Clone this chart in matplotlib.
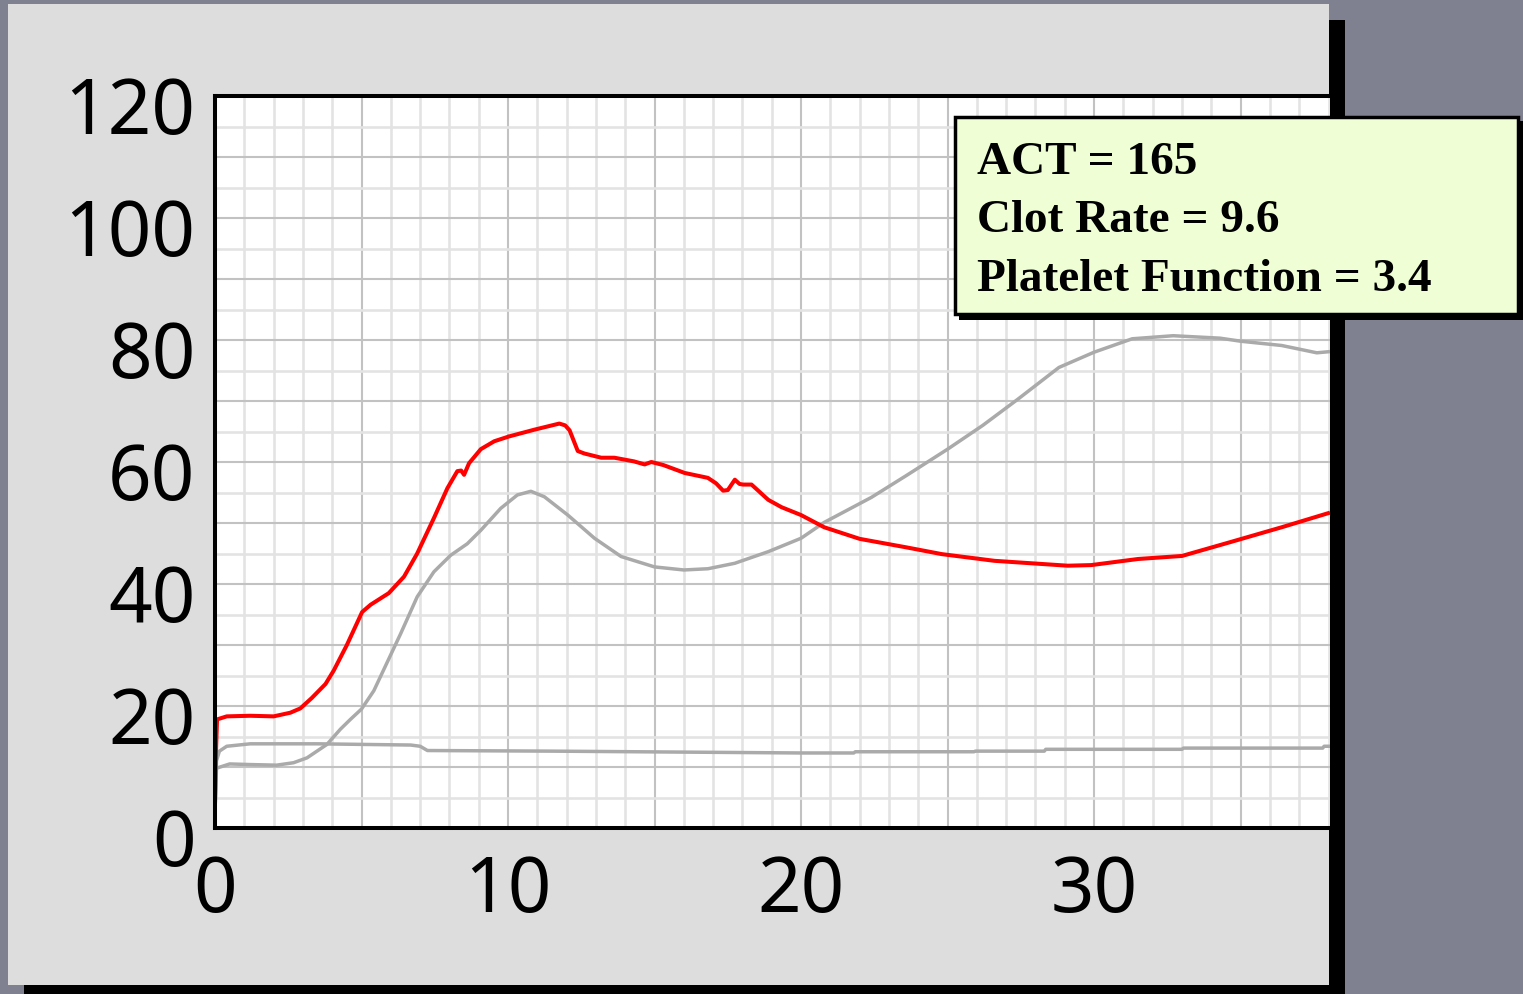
import matplotlib
matplotlib.use("Agg")
import matplotlib.pyplot as plt
from matplotlib.patches import Rectangle
from matplotlib.transforms import ScaledTranslation

# data (time in minutes, signal units)
red_x = [0, 0.03, 0.07, 0.4, 1.2, 2.0, 2.57, 2.91, 3.3, 3.77, 4.05, 4.5, 5.02, 5.31,
         5.93, 6.45, 6.9, 7.47, 7.93, 8.27, 8.4, 8.5, 8.67, 9.07, 9.53, 10.04, 10.9,
         11.75, 11.95, 12.1, 12.38, 12.6, 13.18, 13.63, 14.3, 14.66, 14.89, 15.3,
         16.03, 16.82, 17.1, 17.34, 17.5, 17.74, 17.9, 18.02, 18.31, 18.88, 19.33,
         20.0, 20.79, 22.0, 23.6, 24.8, 26.6, 29.1, 29.9, 31.5, 33.0, 34.6, 36.4, 38.05]
red_y = [4.3, 12, 17.8, 18.3, 18.4, 18.3, 18.9, 19.6, 21.3, 23.6, 25.8, 30.0, 35.4, 36.6,
         38.5, 41.2, 45.0, 50.8, 55.7, 58.5, 58.6, 57.9, 59.8, 62.1, 63.4, 64.2, 65.3,
         66.3, 66.0, 65.2, 61.8, 61.4, 60.7, 60.7, 60.1, 59.6, 60.0, 59.5,
         58.2, 57.4, 56.5, 55.3, 55.4, 57.1, 56.4, 56.3, 56.3, 53.8, 52.6,
         51.3, 49.3, 47.4, 46.0, 44.9, 43.8, 43.0, 43.1, 44.1, 44.6, 46.8, 49.3, 51.7]

curve_x = [0, 0.05, 0.5, 1.2, 2.1, 2.68, 3.14, 3.82, 4.28, 4.62, 5.0, 5.42, 6.33, 6.9,
           7.47, 8.04, 8.61, 9.07, 9.75, 10.32, 10.78, 11.24, 12.04, 12.95, 13.86, 15.0,
           16.0, 16.82, 17.74, 18.88, 20.0, 20.79, 22.4, 23.6, 25.0, 26.2, 27.4, 28.8,
           30.0, 31.3, 32.7, 34.3, 35.0, 36.4, 37.6, 38.05]
curve_y = [2.5, 9.8, 10.5, 10.4, 10.3, 10.7, 11.5, 13.7, 16.2, 17.8, 19.5, 22.5, 31.8, 37.9,
           42.0, 44.7, 46.6, 48.8, 52.4, 54.6, 55.2, 54.3, 51.3, 47.5, 44.5, 42.8,
           42.3, 42.5, 43.4, 45.3, 47.5, 50.1, 54.2, 57.8, 62.1, 66.0, 70.3, 75.5,
           78.0, 80.2, 80.7, 80.3, 79.8, 79.1, 77.9, 78.1]

flat_x = [0, 0.05, 0.15, 0.4, 1.2, 3.5, 6.68, 7.0, 7.25, 11.5, 20.0, 21.8, 21.85, 25.9,
          25.95, 28.3, 28.35, 33.0, 33.05, 37.8, 37.85, 38.05]
flat_y = [2.5, 11.0, 12.6, 13.4, 13.8, 13.8, 13.6, 13.4, 12.7, 12.6, 12.3, 12.3, 12.5, 12.5,
          12.6, 12.6, 12.9, 12.9, 13.1, 13.1, 13.4, 13.4]

x_ticks = [0, 10, 20, 30]
y_ticks = [0, 20, 40, 60, 80, 100, 120]
box_lines = ["ACT = 165", "Clot Rate = 9.6", "Platelet Function = 3.4"]

W, H = 1523, 995
bg = "#7f8190"
panel = "#dddddd"

fig = plt.figure(figsize=(W / 100, H / 100), dpi=100)
fig.patch.set_facecolor(bg)

def px_rect(x0, y0, x1, y1, **kw):
    # rectangle in pixel coords measured from top-left
    return Rectangle((x0 / W, 1 - y1 / H), (x1 - x0) / W, (y1 - y0) / H,
                     transform=fig.transFigure, figure=fig, **kw)

fig.patches.append(px_rect(24, 21, 1345, 1002, facecolor="black", edgecolor="none", zorder=-2))
fig.patches.append(px_rect(8, 5, 1329, 986, facecolor=panel, edgecolor="none", zorder=-1))

ax = fig.add_axes([215 / W, 1 - 829 / H, (1330 - 215) / W, (829 - 97) / H])
ax.set_facecolor("white")
ax.set_xlim(0, 38.05)
ax.set_ylim(0, 120)

ax.set_xticks(range(0, 39, 5))
ax.set_xticks(range(0, 39, 1), minor=True)
ax.set_yticks(range(0, 121, 10))
ax.set_yticks(range(0, 121, 5), minor=True)
ax.grid(which="minor", color="#e3e3e3", linewidth=1.9)
ax.grid(which="major", color="#c2c2c2", linewidth=1.5)
ax.set_axisbelow(True)

ax.plot(flat_x, flat_y, color="#aaaaaa", linewidth=2.5, solid_capstyle="butt")
ax.plot(curve_x, curve_y, color="#aaaaaa", linewidth=2.5, solid_capstyle="butt")
ax.plot(red_x, red_y, color="#ff0000", linewidth=2.9, solid_capstyle="butt")

# tick labels: only the labelled values, no tick marks
ax.tick_params(which="both", length=0)
ax.set_xticklabels([str(v) if v in x_ticks else "" for v in range(0, 39, 5)],
                   fontsize=55, family="Noto Sans")
ax.set_yticklabels([str(v) if v in y_ticks else "" for v in range(0, 121, 10)],
                   fontsize=55, family="Noto Sans")
ax.tick_params(axis="y", pad=14)
ax.tick_params(axis="x", pad=18)
off = ScaledTranslation(0, -8 / 100, fig.dpi_scale_trans)
for lab in ax.get_yticklabels():
    lab.set_transform(lab.get_transform() + off)

for side in ["left", "top", "bottom"]:
    ax.spines[side].set_color("black")
    ax.spines[side].set_linewidth(2.9)
ax.spines["right"].set_visible(False)

# result box with drop shadow
fig.patches.append(px_rect(959, 122, 1524, 321, facecolor="black", edgecolor="none", zorder=4))
fig.patches.append(px_rect(955, 118, 1518, 315, facecolor="#effed5", edgecolor="black",
                           linewidth=2.5, zorder=5))
for i, line in enumerate(box_lines):
    fig.text(977 / W, 1 - (174 + i * 58.5) / H, line, fontsize=34, fontweight="bold",
             family="Liberation Serif", va="baseline", ha="left", zorder=6)

fig.savefig("out.png", dpi=100, facecolor=bg)
